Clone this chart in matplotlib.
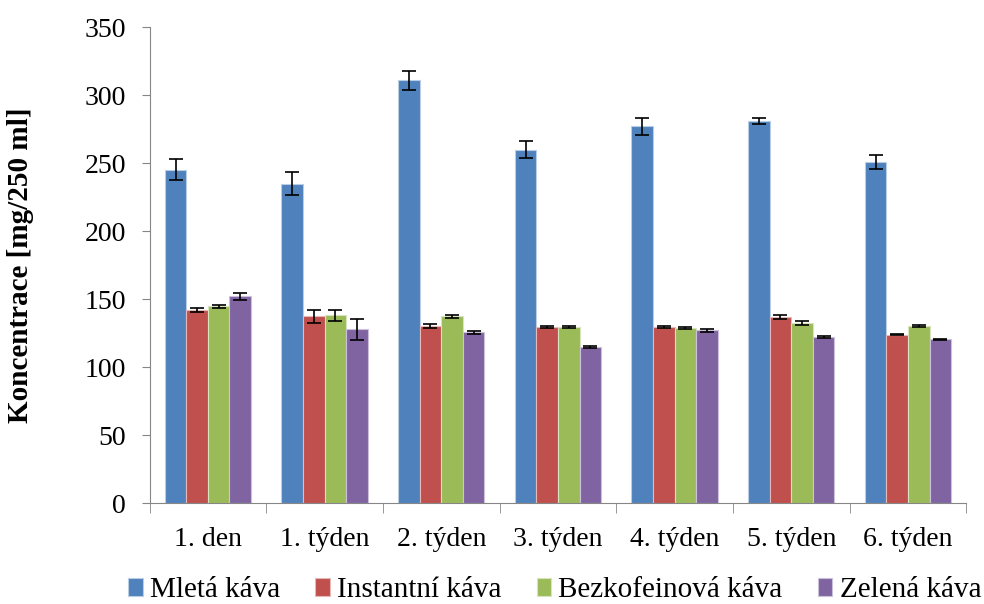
import numpy as np
import matplotlib.pyplot as plt

plt.rcParams['font.family'] = ['Liberation Serif', 'DejaVu Serif']

categories = ['1. den', '1. týden', '2. týden', '3. týden', '4. týden', '5. týden', '6. týden']
series = ['Mletá káva', 'Instantní káva', 'Bezkofeinová káva', 'Zelená káva']

mleta = [245, 235, 311, 260, 277, 281, 251]
mleta_err = [7.7, 8.5, 7, 6, 6, 2, 5]
instantni = [142, 137.5, 130.5, 129.5, 129.5, 137, 124]
instantni_err = [1.5, 4.8, 1.5, 1, 1, 1.5, 0.6]
bezkofein = [144.8, 138, 137.3, 129.6, 128.7, 132.4, 130.4]
bezkofein_err = [1, 4.3, 1, 1, 0.6, 1.5, 0.6]
zelena = [152.2, 127.7, 125.7, 114.7, 127, 122, 120.4]
zelena_err = [2.5, 8, 1, 0.6, 1, 0.6, 0.6]

colors = ['#4F81BD', '#C0504D', '#9BBB59', '#8064A2']
edges = ['#B9CDE5', '#E6B9B8', '#D7E4BD', '#CCC1DA']

values = [mleta, instantni, bezkofein, zelena]
errors = [mleta_err, instantni_err, bezkofein_err, zelena_err]

fig = plt.figure(figsize=(9.84, 6.04), dpi=100)
ax = fig.add_axes([0.152, 0.167, 0.83, 0.788])

x = np.arange(len(categories))
w = 0.185
for i, (vals, errs) in enumerate(zip(values, errors)):
    pos = x + (i - 1.5) * w
    ax.bar(pos, vals, w, color=colors[i], edgecolor=edges[i], linewidth=0.8,
           label=series[i], zorder=2)
    ax.errorbar(pos, vals, yerr=errs, fmt='none', ecolor='black', elinewidth=1.2,
                capsize=5, capthick=1.2, zorder=3)

ax.set_ylim(0, 350)
ax.set_xlim(-0.5, len(categories) - 0.5)
ax.set_yticks(np.arange(0, 351, 50))
ax.set_xticks(x)
ax.set_xticklabels(categories)
ax.set_xticks(np.arange(-0.5, len(categories), 1), minor=True)
ax.tick_params(axis='x', which='major', length=0, labelsize=20, pad=17)
ax.tick_params(axis='x', which='minor', length=7, color='#868686')
ax.tick_params(axis='y', length=6, color='#868686', labelsize=20, pad=11)

for s in ['top', 'right']:
    ax.spines[s].set_visible(False)
for s in ['left', 'bottom']:
    ax.spines[s].set_color('#868686')

ax.set_ylabel('Koncentrace [mg/250 ml]', fontsize=21, fontweight='bold')
ax.yaxis.set_label_coords(-0.142, 0.5)

ax.legend(loc='center', bbox_to_anchor=(0.496, -0.183), ncol=4, frameon=False,
          fontsize=21, handlelength=0.5, handleheight=0.55, handletextpad=0.25,
          columnspacing=1.2, borderpad=0)

fig.savefig('out.png', dpi=100)
